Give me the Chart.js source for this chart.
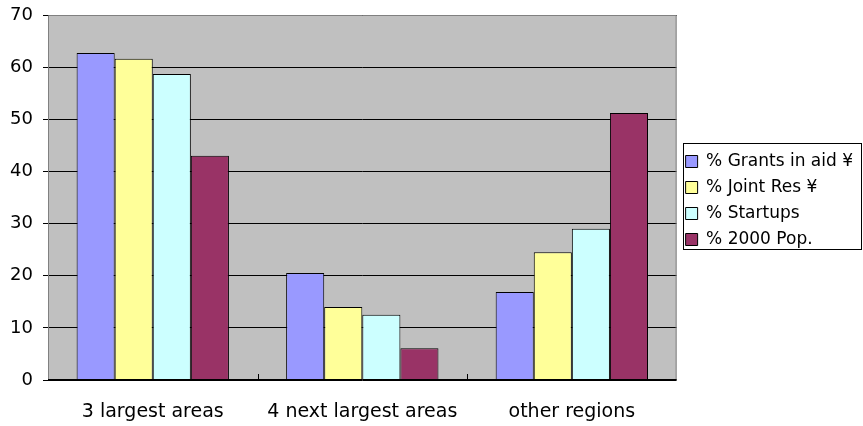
<!DOCTYPE html>
<html>
<head>
<meta charset="utf-8">
<script src="https://cdn.jsdelivr.net/npm/chart.js@4/dist/chart.umd.min.js"></script>
<style>
  html, body { margin: 0; padding: 0; background: #fff; }
  #wrap { width: 863px; height: 426px; }
</style>
</head>
<body>
<div id="wrap"><canvas id="regionChart"></canvas></div>
<script>
// regions and share of each measure (percent)
var regions = ["3 largest areas", "4 next largest areas", "other regions"];
var grantsInAid = [62.7, 20.5, 16.9];
var jointRes = [61.6, 14.0, 24.5];
var startups = [58.7, 12.5, 29.0];
var pop2000 = [43.0, 6.1, 51.2];
var yTicks = [0, 10, 20, 30, 40, 50, 60, 70];

var fontName = "'DejaVu Sans', sans-serif";

// gray plot area with a thin frame, plus short inner ticks between groups
var plotBackground = {
    id: "plotBackground",
    beforeDraw: function (chart) {
        var a = chart.chartArea;
        var c = chart.ctx;
        c.save();
        c.fillStyle = "#c0c0c0";
        c.fillRect(a.left, a.top, a.right - a.left, a.bottom - a.top);
        c.restore();
    },
    afterDatasetsDraw: function (chart) {
        var a = chart.chartArea;
        var c = chart.ctx;
        var x = chart.scales.x;
        c.save();
        c.strokeStyle = "#808080";
        c.lineWidth = 1;
        c.beginPath();
        c.moveTo(a.left + 0.5, a.bottom);
        c.lineTo(a.left + 0.5, a.top + 0.5);
        c.lineTo(a.right - 0.5, a.top + 0.5);
        c.lineTo(a.right - 0.5, a.bottom);
        c.stroke();
        c.strokeStyle = "#000";
        c.beginPath();
        for (var i = 0; i < regions.length - 1; i++) {
            var px = Math.round((x.getPixelForValue(i) + x.getPixelForValue(i + 1)) / 2) + 0.5;
            c.moveTo(px, a.bottom);
            c.lineTo(px, a.bottom - 6);
        }
        c.moveTo(a.left, a.bottom - 0.5);
        c.lineTo(a.right, a.bottom - 0.5);
        c.stroke();
        c.restore();
    }
};

// keep the legend centred on the plot area and frame it
var legendFrame = {
    id: "legendFrame",
    afterUpdate: function (chart) {
        var l = chart.legend;
        var a = chart.chartArea;
        var shift = Math.round((a.top + a.bottom) / 2 + 3 - (l.top + l.bottom) / 2);
        l.top += shift;
        l.bottom += shift;
        l.legendHitBoxes.forEach(function (b) { b.top += shift; });
    },
    afterDraw: function (chart) {
        var l = chart.legend;
        var boxes = l.legendHitBoxes;
        if (!boxes || !boxes.length) return;
        var last = boxes[boxes.length - 1];
        var left = Math.round(boxes[0].left) - 3;
        var top = Math.round(boxes[0].top) - 10;
        var bottom = Math.round(last.top + last.height) + 1;
        var right = Math.round(l.right) - 2;
        var c = chart.ctx;
        c.save();
        c.strokeStyle = "#000";
        c.lineWidth = 1;
        c.strokeRect(left + 0.5, top + 0.5, right - left, bottom - top);
        c.restore();
    }
};

var ctx = document.getElementById("regionChart").getContext("2d");
var myChart = new Chart(ctx, {
    type: "bar",
    data: {
        labels: regions,
        datasets: [
            { label: "% Grants in aid ¥", data: grantsInAid, backgroundColor: "#9999ff" },
            { label: "% Joint Res ¥", data: jointRes, backgroundColor: "#ffff99" },
            { label: "% Startups", data: startups, backgroundColor: "#ccffff" },
            { label: "% 2000 Pop.", data: pop2000, backgroundColor: "#993366" }
        ]
    },
    options: {
        responsive: true,
        maintainAspectRatio: false,
        animation: false,
        devicePixelRatio: 1,
        layout: { padding: { top: 15, right: 0, left: 1, bottom: 0 } },
        datasets: {
            bar: {
                borderColor: "#000",
                borderWidth: 1,
                categoryPercentage: 0.727,
                barPercentage: 1
            }
        },
        plugins: {
            tooltip: { enabled: false },
            legend: {
                position: "right",
                labels: {
                    color: "#000",
                    font: { family: fontName, size: 17 },
                    boxWidth: 12,
                    boxHeight: 12,
                    padding: 9
                }
            }
        },
        scales: {
            x: {
                afterFit: function (axis) { axis.height = 46; },
                grid: { display: false },
                border: { display: false },
                ticks: {
                    color: "#000",
                    font: { family: fontName, size: 19 },
                    padding: 13,
                    maxRotation: 0
                }
            },
            y: {
                min: 0,
                max: 70,
                afterFit: function (axis) {
                    axis.width = 47;
                    axis.paddingTop = 0;
                    axis.paddingBottom = 0;
                },
                afterBuildTicks: function (axis) {
                    axis.ticks = yTicks.map(function (v) { return { value: v }; });
                },
                grid: {
                    color: "#000",
                    lineWidth: 1,
                    drawTicks: true,
                    tickLength: 5
                },
                border: { display: false },
                ticks: {
                    color: "#000",
                    font: { family: fontName, size: 18 },
                    padding: 10
                }
            }
        }
    },
    plugins: [plotBackground, legendFrame]
});
</script>
</body>
</html>
